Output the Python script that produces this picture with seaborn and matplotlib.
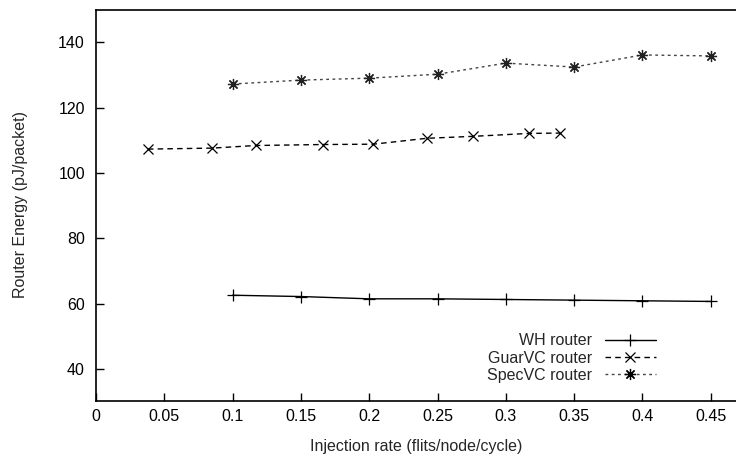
import matplotlib
matplotlib.use("Agg")
import matplotlib.pyplot as plt
import seaborn as sns
import pandas as pd

wh_x = [0.10, 0.15, 0.20, 0.25, 0.30, 0.35, 0.40, 0.45]
wh_y = [62.6, 62.2, 61.5, 61.5, 61.3, 61.1, 60.9, 60.7]

guar_x = [0.038, 0.085, 0.117, 0.166, 0.203, 0.242, 0.276, 0.317, 0.340]
guar_y = [107.3, 107.6, 108.4, 108.7, 108.8, 110.6, 111.2, 112.1, 112.2]

spec_x = [0.10, 0.15, 0.20, 0.25, 0.30, 0.35, 0.40, 0.45]
spec_y = [127.2, 128.4, 129.0, 130.2, 133.6, 132.4, 136.1, 135.8]

labels = ["WH router", "GuarVC router", "SpecVC router"]
x_ticks = [0, 0.05, 0.1, 0.15, 0.2, 0.25, 0.3, 0.35, 0.4, 0.45]
x_ticklabels = ["0", "0.05", "0.1", "0.15", "0.2", "0.25", "0.3", "0.35", "0.4", "0.45"]
y_ticks = [40, 60, 80, 100, 120, 140]

sns.set_style("ticks")
plt.rcParams['font.family'] = ['Liberation Sans', 'DejaVu Sans']
plt.rcParams['font.size'] = 11.5

fig = plt.figure(figsize=(7.36, 4.66), dpi=100)
ax = fig.add_axes([96/736, 1 - 400.5/466, 1 - 96/736, (400.5 - 9.5)/466])

df_wh = pd.DataFrame({"x": wh_x, "y": wh_y})
df_guar = pd.DataFrame({"x": guar_x, "y": guar_y})
df_spec = pd.DataFrame({"x": spec_x, "y": spec_y})

common = dict(ax=ax, color="black", lw=1.0, markeredgecolor="black",
              markerfacecolor="black", markeredgewidth=0.9)
sns.lineplot(data=df_wh, x="x", y="y", marker="+", markersize=8,
             label=labels[0], **common)
sns.lineplot(data=df_guar, x="x", y="y", marker="x", markersize=6.5,
             label=labels[1], **common)
sns.lineplot(data=df_spec, x="x", y="y", marker=(8, 2, 0), markersize=8,
             label=labels[2], **common)

lines = ax.get_lines()
lines[1].set_dashes([4, 3])
lines[2].set_dashes([2, 2.5])
lines[2].set_color("#444444")
lines[2].set_markeredgecolor("#222222")

ax.set_xlim(0, (736 - 96) / 1366)
ax.set_ylim(30.4, 150)
ax.set_xticks(x_ticks)
ax.set_xticklabels(x_ticklabels)
ax.set_yticks(y_ticks)
ax.tick_params(direction="in", length=6, width=1.0, colors="black",
               bottom=True, left=True, top=False, right=False, labelsize=11.5)
ax.tick_params(axis="x", pad=6)
ax.tick_params(axis="y", pad=8)
for s in ["left", "bottom", "top"]:
    ax.spines[s].set_visible(True)
    ax.spines[s].set_color("black")
    ax.spines[s].set_linewidth(1.2)
ax.spines["right"].set_visible(False)

ax.set_xlabel("Injection rate (flits/node/cycle)", fontsize=11.5, labelpad=11)
ax.set_ylabel("Router Energy (pJ/packet)", fontsize=11.5, labelpad=22)

leg = ax.legend(loc="lower right", bbox_to_anchor=(664/736, 1 - 391/466),
                bbox_transform=fig.transFigure, frameon=False, markerfirst=False,
                handlelength=3.2, labelspacing=0.15, borderpad=0, handletextpad=0.8,
                fontsize=11.5)
for h in leg.legend_handles:
    h.set_markeredgecolor("black")

fig.savefig("out.png", dpi=100)
